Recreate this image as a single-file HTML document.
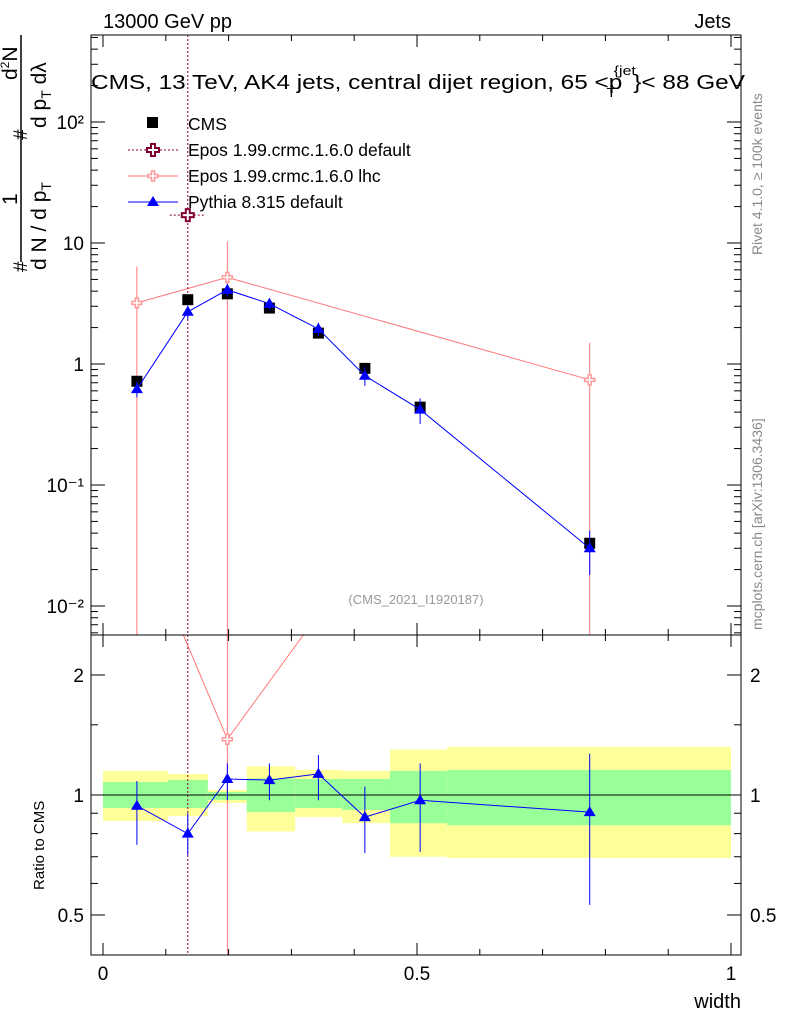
<!DOCTYPE html>
<html><head><meta charset="utf-8"><style>
body{margin:0;background:#fff;font-family:"Liberation Sans",sans-serif}
svg text{font-family:"Liberation Sans",sans-serif}
</style></head><body>
<svg id="c" width="786" height="1024" xmlns="http://www.w3.org/2000/svg">
<g id="bands"></g>
<g id="marks"></g>
<g id="axes"></g>
<text x="103" y="28" font-size="20">13000 GeV pp</text>
<text x="731" y="28" font-size="20" text-anchor="end">Jets</text>
<text x="91" y="89" font-size="20" textLength="654" lengthAdjust="spacingAndGlyphs">CMS, 13 TeV, AK4 jets, central dijet region, 65 &lt;p<tspan font-size="13" dy="-14" dx="-7">{jet</tspan><tspan font-size="13" dy="22" dx="-24">T</tspan><tspan dy="-8" dx="14">}&lt; 88 GeV</tspan></text>
<text x="416" y="604" font-size="13" fill="#999" text-anchor="middle">(CMS_2021_I1920187)</text>
<text transform="translate(762,255) rotate(-90)" font-size="14" fill="#888">Rivet 4.1.0, ≥ 100k events</text>
<text transform="translate(762,630) rotate(-90)" font-size="14" fill="#888">mcplots.cern.ch [arXiv:1306.3436]</text>
<text transform="translate(44,890) rotate(-90)" font-size="15">Ratio to CMS</text>
<text x="741" y="1008" font-size="20" text-anchor="end">width</text>
<g font-size="21">
<line x1="21" y1="35" x2="21" y2="262" stroke="#000" stroke-width="1.5"/>
<text transform="translate(27,272) rotate(-90)" font-size="19">#</text>
<text transform="translate(17,205) rotate(-90)">1</text>
<text transform="translate(46,270) rotate(-90)">d N / d p<tspan font-size="14" dy="5">T</tspan></text>
<text transform="translate(27,140) rotate(-90)" font-size="19">#</text>
<text transform="translate(46,128) rotate(-90)">d p<tspan font-size="14" dy="5">T</tspan><tspan dy="-5"> dλ</tspan></text>
<text transform="translate(17,80) rotate(-90)">d<tspan font-size="12" dy="-8">2</tspan><tspan dy="8">N</tspan></text>
</g>
<g font-size="17.5">
<rect x="147" y="117" width="11" height="11" fill="#000"/><text x="188" y="130">CMS</text>
<line x1="128" y1="150" x2="178" y2="150" stroke="#800033" stroke-dasharray="2,2"/>
<path d="M-2,-6h4v4h4v4h-4v4h-4v-4h-4v-4h4z" transform="translate(153,150)" fill="#fff" stroke="#800033" stroke-width="2"/>
<text x="188" y="156">Epos 1.99.crmc.1.6.0 default</text>
<line x1="128" y1="176" x2="178" y2="176" stroke="#f77"/>
<path d="M-1.5,-5h3v3.5h3.5v3h-3.5v3.5h-3v-3.5h-3.5v-3h3.5z" transform="translate(153,176)" fill="#fff" stroke="#f99" stroke-width="1.5"/>
<text x="188" y="182">Epos 1.99.crmc.1.6.0 lhc</text>
<line x1="128" y1="202" x2="178" y2="202" stroke="#00f"/><polygon points="153,196 159,206 147,206" fill="#00f"/><text x="188" y="208">Pythia 8.315 default</text>
</g>
</svg>
<script>
const binEdges=[0,0.1035,0.167,0.229,0.306,0.381,0.457,0.548,1];
const xVals=[0.054,0.135,0.198,0.265,0.343,0.417,0.505,0.775];
const cmsVals=[0.72,3.4,3.8,2.9,1.8,0.92,0.44,0.033];
const pythiaVals=[0.62,2.7,4.1,3.15,1.95,0.8,0.42,0.03];
const pythiaErrLo=[0.53,2.35,3.6,2.8,1.7,0.66,0.32,0.018];
const pythiaErrHi=[0.72,3.05,4.6,3.5,2.2,0.95,0.52,0.042];
const eposLhcX=[0.054,0.198,0.775];
const eposLhcVals=[3.2,5.2,0.74];
const eposLhcHi=[6.4,10.3,1.5];
const eposDefX=[0.135];
const eposDefVals=[17];
const yellowLo=[0.861,0.886,0.955,0.81,0.88,0.85,0.70,0.695];
const yellowHi=[1.149,1.129,1.03,1.18,1.155,1.149,1.30,1.32];
const greenLo=[0.928,0.928,0.972,0.906,0.928,0.917,0.85,0.84];
const greenHi=[1.078,1.09,1.017,1.10,1.097,1.097,1.149,1.155];
const ratioPythia=[0.94,0.80,1.097,1.09,1.13,0.88,0.97,0.906];
const ratioPythiaLo=[0.75,0.707,0.97,0.97,0.97,0.715,0.72,0.53];
const ratioPythiaHi=[1.084,0.90,1.2,1.2,1.26,1.05,1.2,1.27];
const ratioEposLhc=[1.38];
const ratioEposLhcX=[0.198];
const xTicks=[0,0.5,1];
const mainTicks=[-2,-1,0,1,2];
const mainTickLabels=["10⁻²","10⁻¹","1","10","10²"];
const ratioTicks=[0.5,1,2];
const ratioTickLabels=["0.5","1","2"];

const NS="http://www.w3.org/2000/svg";
const L=91,R=741,T=35,MB=635,RB=955;
const X=v=>103+v*628;
const Y=v=>364-Math.log10(v)*121;
const YR=v=>795-Math.log2(v)*120;
const bigCross="M-2,-6h4v4h4v4h-4v4h-4v-4h-4v-4h4z";
const smallCross="M-1.5,-5h3v3.5h3.5v3h-3.5v3.5h-3v-3.5h-3.5v-3h3.5z";
function mk(p,tag,a){const e=document.createElementNS(NS,tag);for(const k in a)e.setAttribute(k,a[k]);p.appendChild(e);return e;}
const bands=document.getElementById('bands'),marks=document.getElementById('marks'),axes=document.getElementById('axes');
const clampM=y=>Math.max(T,Math.min(MB,y));
for(let i=0;i<8;i++){
 let e=mk(bands,'rect',{x:X(binEdges[i]),width:X(binEdges[i+1])-X(binEdges[i]),y:YR(yellowHi[i]),height:YR(yellowLo[i])-YR(yellowHi[i]),fill:'#ffff99'});
 
 
 e=mk(bands,'rect',{x:X(binEdges[i]),width:X(binEdges[i+1])-X(binEdges[i]),y:YR(greenHi[i]),height:YR(greenLo[i])-YR(greenHi[i]),fill:'#99ff99'});
 
 
}
let ln=mk(bands,'line',{x1:L,x2:R,y1:YR(1),y2:YR(1),stroke:'#000'});


let pts=eposLhcX.map((x,i)=>X(x)+','+Y(eposLhcVals[i])).join(' ');
let pl=mk(marks,'polyline',{points:pts,fill:'none',stroke:'#f77'});


eposLhcX.forEach((x,i)=>{
 let e=mk(marks,'line',{x1:X(x),x2:X(x),y1:clampM(Y(eposLhcHi[i])),y2:MB,stroke:'#f77'});
 
 
 e=mk(marks,'path',{d:smallCross,transform:`translate(${X(x)},${Y(eposLhcVals[i])})`,fill:'#fff',stroke:'#f99','stroke-width':1.5});
 
 
});
eposDefX.forEach((x,i)=>{
 let e=mk(marks,'line',{x1:X(x)-18,x2:X(x)+18,y1:Y(eposDefVals[i]),y2:Y(eposDefVals[i]),stroke:'#800033','stroke-dasharray':'2,2'});
 
 
 e=mk(marks,'line',{x1:X(x),x2:X(x),y1:T,y2:RB,stroke:'#800033','stroke-dasharray':'2,2'});
 
 
 e=mk(marks,'path',{d:bigCross,transform:`translate(${X(x)},${Y(eposDefVals[i])})`,fill:'#fff',stroke:'#800033','stroke-width':2});
 
 
});
xVals.forEach((x,i)=>{
 let e=mk(marks,'rect',{x:X(x)-5.5,y:Y(cmsVals[i])-5.5,width:11,height:11,fill:'#000'});
 
 
});
pl=mk(marks,'polyline',{points:xVals.map((x,i)=>X(x)+','+Y(pythiaVals[i])).join(' '),fill:'none',stroke:'#00f'});


xVals.forEach((x,i)=>{
 let e=mk(marks,'line',{x1:X(x),x2:X(x),y1:Y(pythiaErrHi[i]),y2:Y(pythiaErrLo[i]),stroke:'#00f'});
 
 
 const px=X(x),py=Y(pythiaVals[i]);
 e=mk(marks,'polygon',{points:`${px},${py-6} ${px+6},${py+4} ${px-6},${py+4}`,fill:'#00f'});
 
 
});
ratioEposLhcX.forEach((x,i)=>{
 const px=X(x),py=YR(ratioEposLhc[i]);
 let e=mk(marks,'polyline',{points:`${X(0.128)},${MB} ${px},${py} ${X(0.319)},${MB}`,fill:'none',stroke:'#f77'});
 
 
 e=mk(marks,'line',{x1:px,x2:px,y1:MB,y2:RB,stroke:'#f77'});
 
 
 e=mk(marks,'path',{d:smallCross,transform:`translate(${px},${py})`,fill:'#fff',stroke:'#f99','stroke-width':1.5});
 
 
});
pl=mk(marks,'polyline',{points:xVals.map((x,i)=>X(x)+','+YR(ratioPythia[i])).join(' '),fill:'none',stroke:'#00f'});


xVals.forEach((x,i)=>{
 let e=mk(marks,'line',{x1:X(x),x2:X(x),y1:YR(ratioPythiaHi[i]),y2:YR(ratioPythiaLo[i]),stroke:'#00f'});
 
 
 const px=X(x),py=YR(ratioPythia[i]);
 e=mk(marks,'polygon',{points:`${px},${py-6} ${px+6},${py+4} ${px-6},${py+4}`,fill:'#00f'});
 
 
});
let f=mk(axes,'rect',{x:L,y:T,width:R-L,height:MB-T,fill:'none',stroke:'#000'});


f=mk(axes,'rect',{x:L,y:MB,width:R-L,height:RB-MB,fill:'none',stroke:'#000'});


function tick(x1,y1,x2,y2,name){const e=mk(axes,'line',{x1,y1,x2,y2,stroke:'#000'});
 
 }
for(let k=0;k<=10;k++){
 const v=k/10;const len=(k%5===0)?12:6;
 [[T,1],[MB,-1],[MB,1],[RB,-1]].forEach(([y,d])=>tick(X(v),y,X(v),y+d*len,'x-tick'));
}
xTicks.forEach(v=>{let e=mk(axes,'text',{x:X(v),y:980,'text-anchor':'middle','font-size':19});e.textContent=String(v);
 
 });
mainTicks.forEach((p,i)=>{
 const y=Y(Math.pow(10,p));
 [[L,1],[R,-1]].forEach(([x,d])=>tick(x,y,x+d*14,y,'y-tick'));
 let e=mk(axes,'text',{x:84,y:y+7,'text-anchor':'end','font-size':19});e.textContent=mainTickLabels[i];
 
 
 for(let m=2;m<10;m++){const yy=Y(m*Math.pow(10,p-1));if(yy<T||yy>MB)continue;
  [[L,1],[R,-1]].forEach(([x,d])=>tick(x,yy,x+d*7,yy,'y-minor-tick'));}
});
for(let m=2;m<=5;m++){const yy=Y(m*100);if(yy<T)continue;[[L,1],[R,-1]].forEach(([x,d])=>tick(x,yy,x+d*7,yy,'y-minor-tick'));}
ratioTicks.forEach((v,i)=>{
 const y=YR(v);
 [[L,1],[R,-1]].forEach(([x,d])=>tick(x,y,x+d*14,y,'ratio-tick'));
 let e=mk(axes,'text',{x:84,y:y+7,'text-anchor':'end','font-size':19});e.textContent=ratioTickLabels[i];
 
 
 e=mk(axes,'text',{x:750,y:y+7,'font-size':19});e.textContent=ratioTickLabels[i];
 
 
});
[0.6,0.7,0.8,0.9,1.5].forEach(v=>{const y=YR(v);[[L,1],[R,-1]].forEach(([x,d])=>tick(x,y,x+d*7,y,'ratio-minor-tick'));});
</script>
</body></html>
